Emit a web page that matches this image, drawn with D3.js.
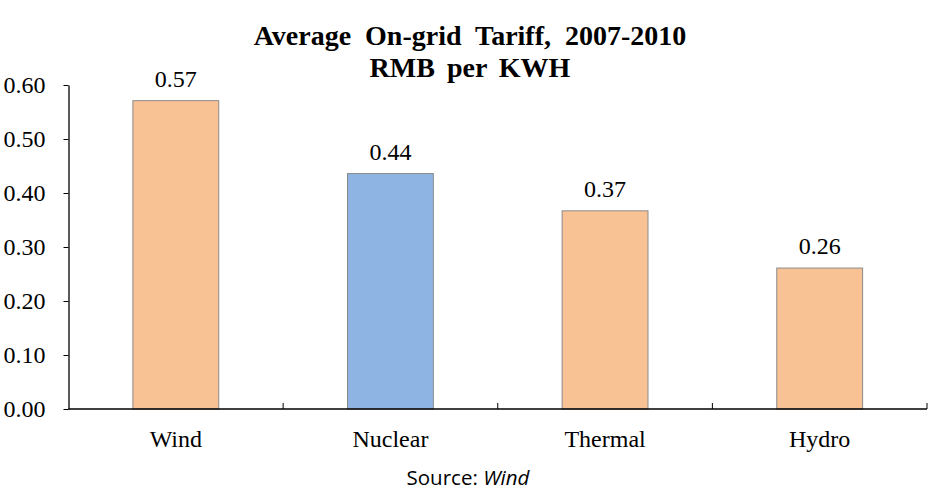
<!DOCTYPE html>
<html><head><meta charset="utf-8">
<script src="https://cdn.jsdelivr.net/npm/d3@7"></script>
<style>body{margin:0;background:#fff}svg{display:block}</style>
</head><body>
<script>
const categories = ["Wind", "Nuclear", "Thermal", "Hydro"];
const values = [0.571, 0.436, 0.367, 0.261];
const barColors = ["#F9C294", "#8EB4E3", "#F9C294", "#F9C294"];
const yTicks = [0, 0.1, 0.2, 0.3, 0.4, 0.5, 0.6];
const titleLines = ["Average  On-grid  Tariff,  2007-2010", "RMB per KWH"];

const W = 940, H = 491;
const SERIF = "'Liberation Serif', 'Times New Roman', Times, serif";
const svg = d3.select("body").append("svg").attr("width", W).attr("height", H);
const mLeft = 68.5, mRight = 927, mTop = 85, mBottom = 409;

const x = d3.scaleBand().domain(categories).range([mLeft, mRight]).paddingInner(0.6).paddingOuter(0.3);
const y = d3.scaleLinear().domain([0, 0.6]).range([mBottom, mTop]);

// bars
svg.selectAll("rect.bar").data(categories).join("rect")
  .attr("x", d => x(d)).attr("width", x.bandwidth())
  .attr("y", (d, i) => y(values[i])).attr("height", (d, i) => mBottom - y(values[i]))
  .attr("fill", (d, i) => barColors[i]).attr("stroke", "#8a8a8a").attr("stroke-width", 1);

// value labels
svg.selectAll("text.val").data(categories).join("text")
  .attr("x", d => x(d) + x.bandwidth() / 2)
  .attr("y", (d, i) => y(values[i]) - 14)
  .attr("text-anchor", "middle")
  .style("font-family", SERIF).style("font-size", "24px").attr("fill", "#000")
  .text((d, i) => d3.format(".2f")(values[i]));

// y axis
const yAxis = d3.axisLeft(y).tickValues(yTicks).tickFormat(d3.format(".2f")).tickSize(5).tickSizeOuter(0);
const gy = svg.append("g").attr("transform", `translate(${mLeft},0)`).call(yAxis);
gy.select(".domain").attr("stroke", "#000").attr("stroke-width", 1.3);
gy.selectAll(".tick line").attr("stroke", "#000");
gy.selectAll(".tick text").style("font-family", SERIF).style("font-size", "24px")
  .attr("fill", "#000").attr("x", -23).attr("dy", "0.33em").attr("text-anchor", "end");

// x axis line
svg.append("line").attr("x1", mLeft).attr("x2", mRight).attr("y1", mBottom).attr("y2", mBottom)
  .attr("stroke", "#000").attr("stroke-width", 1.3);
// category separator ticks (band boundaries)
const bounds = d3.range(categories.length + 1).map(i => mLeft + i * (mRight - mLeft) / categories.length);
svg.selectAll("line.sep").data(bounds.slice(1)).join("line")
  .attr("x1", d => d).attr("x2", d => d).attr("y1", mBottom).attr("y2", mBottom - 6)
  .attr("stroke", "#000").attr("stroke-width", 1);

// category labels
svg.selectAll("text.cat").data(categories).join("text")
  .attr("x", d => x(d) + x.bandwidth() / 2).attr("y", 447)
  .attr("text-anchor", "middle")
  .style("font-family", SERIF).style("font-size", "24px").attr("fill", "#000")
  .text(d => d);

// title
svg.selectAll("text.title").data(titleLines).join("text")
  .attr("x", 470).attr("y", (d, i) => 44.5 + i * 32.5)
  .attr("text-anchor", "middle").style("white-space", "pre")
  .style("word-spacing", (d, i) => i === 1 ? "5px" : "0px")
  .style("font-family", SERIF).style("font-weight", "bold").style("font-size", "28px")
  .attr("fill", "#000").text(d => d);

// source
const src = svg.append("text").attr("x", 468).attr("y", 485).attr("text-anchor", "middle")
  .style("font-family", "'Open Sans', sans-serif").style("font-size", "20.5px").attr("fill", "#000");
src.append("tspan").text("Source: ");
src.append("tspan").style("font-style", "italic").text("Wind");
</script>
</body></html>
